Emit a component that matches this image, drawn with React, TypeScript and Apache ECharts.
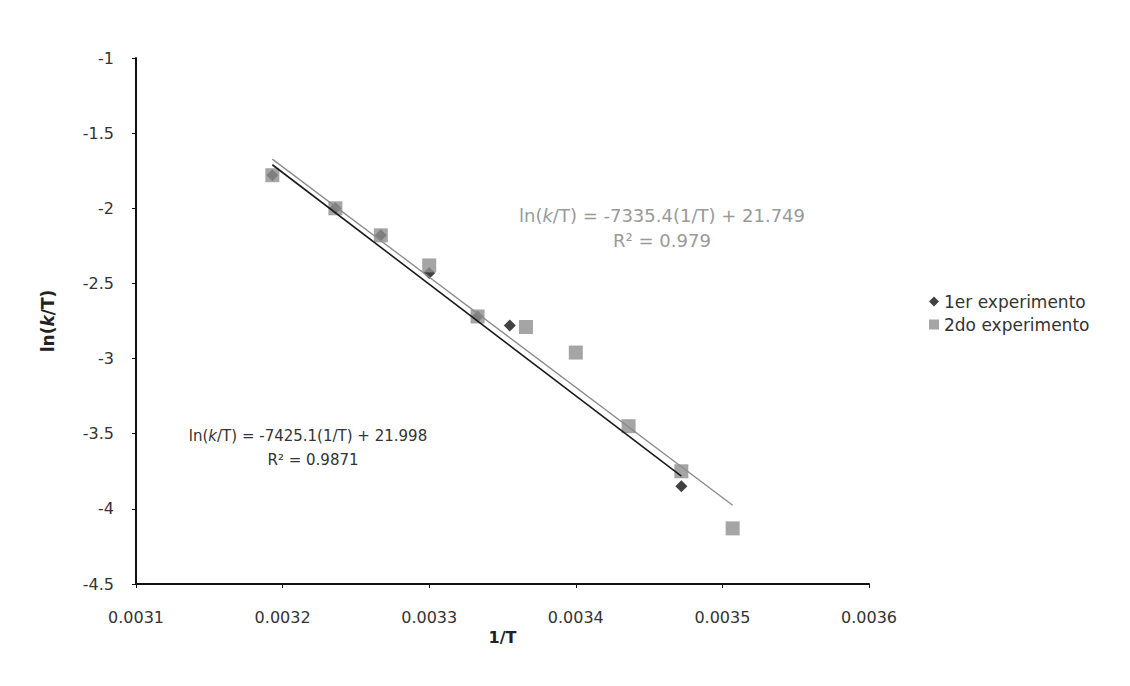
import React, { useEffect, useRef } from "react";
import * as echarts from "echarts";

const series1Name = "1er experimento";
const series2Name = "2do experimento";

const x1 = [0.003193, 0.003236, 0.003267, 0.0033, 0.003333, 0.003355, 0.003472];
const y1 = [-1.78, -2.0, -2.18, -2.43, -2.72, -2.78, -3.85];

const x2 = [0.003193, 0.003236, 0.003267, 0.0033, 0.003333, 0.003366, 0.0034, 0.003436, 0.003472, 0.003507];
const y2 = [-1.78, -2.0, -2.18, -2.38, -2.72, -2.79, -2.96, -3.45, -3.75, -4.13];

const fitSlopes = [-7425.1, -7335.4];
const fitIntercepts = [21.998, 21.749];
const fitLabels = [
  ["{a|ln(}{b|k}{a|/T) = -7425.1(1/T) + 21.998}", "R² = 0.9871"],
  ["{a|ln(}{b|k}{a|/T) = -7335.4(1/T) + 21.749}", "R² = 0.979"],
];

const xTicks = [0.0031, 0.0032, 0.0033, 0.0034, 0.0035, 0.0036];
const yTicks = [-4.5, -4, -3.5, -3, -2.5, -2, -1.5, -1];

function fitLine(xs: number[], k: number, b: number) {
  const lo = Math.min(...xs);
  const hi = Math.max(...xs);
  return [
    [lo, k * lo + b],
    [hi, k * hi + b],
  ];
}

export default function App() {
  const ref = useRef<HTMLDivElement>(null);
  useEffect(() => {
    document.body.style.margin = "0";
    const chart = echarts.init(ref.current!, null, { renderer: "svg" });
    const font = "DejaVu Sans, Liberation Sans, sans-serif";
    const eqText = (text: string, x: number, y: number, size: number, color: string) => ({
      type: "text",
      x,
      y,
      style: {
        text,
        fontFamily: font,
        fontSize: size,
        fill: color,
        align: "center",
        verticalAlign: "middle",
        textAlign: "center",
        textVerticalAlign: "middle",
        rich: {
          a: { fontFamily: font, fontSize: size, fill: color, color },
          b: { fontFamily: font, fontSize: size, fontStyle: "italic", fill: color, color },
        },
      },
    });
    chart.setOption({
      animation: false,
      backgroundColor: "#ffffff",
      textStyle: { fontFamily: font },
      grid: { left: 136, right: 261, top: 58, bottom: 102 },
      legend: {
        orient: "vertical",
        left: 924,
        top: 288,
        itemWidth: 10,
        itemHeight: 10,
        itemGap: 6,
        textStyle: { fontFamily: font, fontSize: 17, color: "#333" },
        data: [
          { name: series1Name, icon: "diamond" },
          { name: series2Name, icon: "rect" },
        ],
      },
      xAxis: {
        type: "value",
        min: xTicks[0],
        max: xTicks[xTicks.length - 1],
        interval: 0.0001,
        name: "1/T",
        nameLocation: "middle",
        nameGap: 42,
        nameTextStyle: { fontWeight: "bold", fontSize: 16, color: "#222", fontFamily: font },
        splitLine: { show: false },
        axisLine: { lineStyle: { color: "#111", width: 2 } },
        axisTick: { length: 4, lineStyle: { color: "#111" } },
        axisLabel: {
          fontSize: 16,
          color: "#333",
          margin: 25,
          formatter: (v: number) => v.toFixed(4),
        },
      },
      yAxis: {
        type: "value",
        min: yTicks[0],
        max: yTicks[yTicks.length - 1],
        interval: 0.5,
        name: "{a|ln(}{b|k}{a|/T)}",
        nameLocation: "middle",
        nameGap: 80,
        nameTextStyle: {
          rich: {
            a: { fontWeight: "bold", fontSize: 17, color: "#222", fontFamily: font },
            b: { fontWeight: "bold", fontStyle: "italic", fontSize: 17, color: "#222", fontFamily: font },
          },
        },
        splitLine: { show: false },
        axisLine: { onZero: false, lineStyle: { color: "#111", width: 2 } },
        axisTick: { length: 4, lineStyle: { color: "#111" } },
        axisLabel: { fontSize: 16, color: "#333", margin: 22 },
      },
      series: [
        {
          name: series1Name,
          type: "scatter",
          symbol: "diamond",
          symbolSize: 12,
          itemStyle: { color: "#111" },
          data: x1.map((x, i) => [x, y1[i]]),
          z: 3,
        },
        {
          name: series2Name,
          type: "scatter",
          symbol: "rect",
          symbolSize: 14,
          itemStyle: { color: "#8e8e8e" },
          data: x2.map((x, i) => [x, y2[i]]),
          z: 4,
        },
        {
          name: "fit1",
          type: "line",
          symbol: "none",
          lineStyle: { color: "#1a1a1a", width: 1.6 },
          data: fitLine(x1, fitSlopes[0], fitIntercepts[0]),
          z: 5,
        },
        {
          name: "fit2",
          type: "line",
          symbol: "none",
          lineStyle: { color: "#8a8a8a", width: 1.3 },
          data: fitLine(x2, fitSlopes[1], fitIntercepts[1]),
          z: 5,
        },
      ],
      graphic: [
        eqText(fitLabels[0][0], 308, 436, 15, "#333"),
        eqText(fitLabels[0][1], 313, 460, 15, "#333"),
        eqText(fitLabels[1][0], 662, 215, 18, "#999"),
        eqText(fitLabels[1][1], 662, 240, 18, "#999"),
      ],
    });
    return () => chart.dispose();
  }, []);
  return <div ref={ref} style={{ width: 1130, height: 686 }} />;
}
